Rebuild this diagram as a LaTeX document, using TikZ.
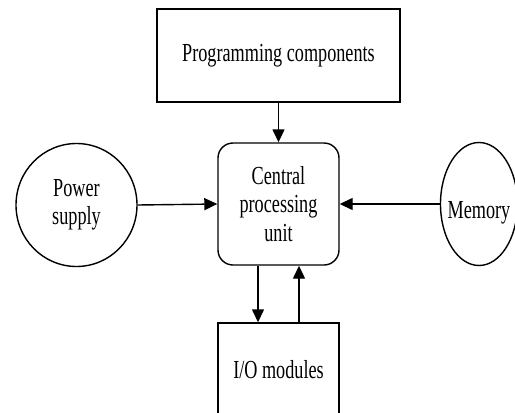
\documentclass[tikz,border=0pt]{standalone}
\usepackage{fontspec}
\setmainfont{Liberation Serif}[FakeStretch=0.70]
\usetikzlibrary{arrows.meta,shapes.geometric}
\begin{document}
\begin{tikzpicture}[x=1pt,y=-1pt,
  every node/.style={font=\fontsize{26}{28.5}\selectfont, align=center, inner sep=0pt, line width=1.4pt},
  boxnode/.style={draw, rectangle},
  cpunode/.style={draw, rectangle, rounded corners=15pt},
  ovalnode/.style={draw, ellipse},
  flow/.style={draw, line width=1.4pt, -{Triangle[length=13pt,width=12pt]}}]
\clip (0,0) rectangle (515,413);
\fill[white] (0,0) rectangle (515,413);
\node[boxnode, minimum width=243pt, minimum height=93pt] (prog) at (278.5,55.5) {Programming components};
\node[cpunode, minimum width=121pt, minimum height=122pt] (cpu) at (278.5,204) {Central\\processing\\unit};
\node[ovalnode, minimum width=121pt, minimum height=123pt] (power) at (76.5,205) {Power\\supply};
\node[ovalnode, minimum width=77pt, minimum height=123pt,
  label={[yshift=-9pt]center:Memory}] (mem) at (479,204) {};
\node[boxnode, minimum width=121pt, minimum height=94pt] (io) at (278.5,370) {I/O modules};
\draw[flow] (prog.south) -- (cpu.north);
\draw[flow] (power.east) -- (cpu.west);
\draw[flow] (mem.west) -- (cpu.east);
\draw[flow] ([xshift=-20.5pt]cpu.south) -- ([xshift=-20.5pt]io.north);
\draw[flow] ([xshift=20.5pt]io.north) -- ([xshift=20.5pt]cpu.south);
\end{tikzpicture}
\end{document}
